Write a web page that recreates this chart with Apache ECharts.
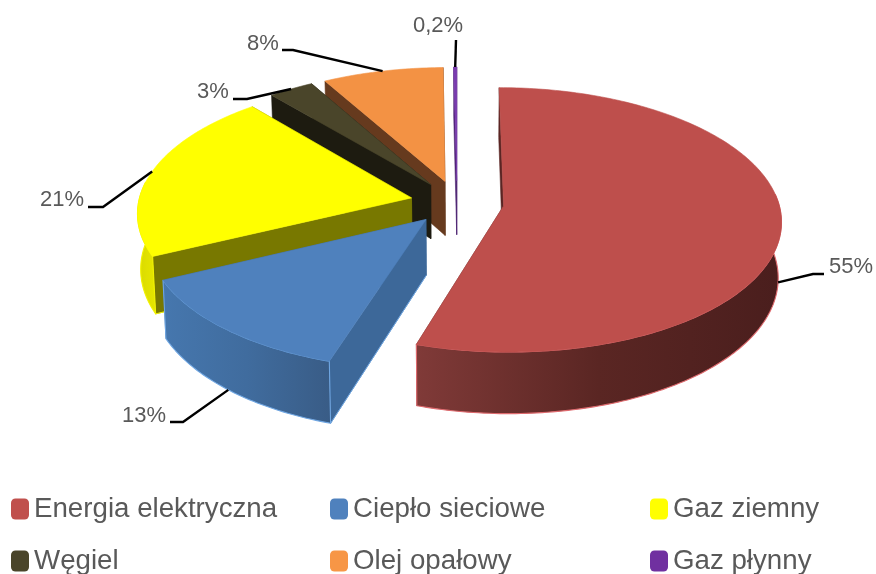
<!DOCTYPE html>
<html>
<head>
<meta charset="utf-8">
<style>html,body{margin:0;padding:0;background:#fff}#c{width:876px;height:574px}</style>
<script src="https://cdn.jsdelivr.net/npm/echarts@6/dist/echarts.min.js"></script>
</head>
<body>
<div id="c"></div>
<script>
// --- data ---
var categories = ['Energia elektryczna', 'Ciepło sieciowe', 'Gaz ziemny', 'Węgiel', 'Olej opałowy', 'Gaz płynny'];
var values = [55, 13, 21, 3, 8, 0.2];
var valueLabels = ['55%', '13%', '21%', '3%', '8%', '0,2%'];

// --- styles ---
var topColors = ['#BE4F4C', '#4F81BD', '#FFFF00', '#4A452A', '#F39244', '#7A3BB0'];
var legendColors = ['#C0504D', '#4F81BD', '#FFFF00', '#4A452A', '#F79646', '#7030A0'];
var cutColors = ['#5a2523', '#3D6899', '#787800', '#1D1B10', '#663A1E', '#4a2070'];
var wallStops = [
  ['#803A38', '#5A2623', '#4A1E1D'],
  ['#4677AE', '#406C9E', '#395C86'],
  ['#E6E600', '#E0E000', '#D8D800'],
  ['#2a2718', '#2a2718', '#2a2718'],
  ['#7a4a22', '#7a4a22', '#7a4a22'],
  ['#4a2070', '#4a2070', '#4a2070']
];
var edgeColors = ['#DE6A6E', '#6FA6E2', '#F2F200', '#3a3720', '#F7A868', '#8a50c0'];
var drawOrder = [6, 5, 4, 3, 2, 1]; // painter's order: back slices lowest

// --- layout of the 3D projection ---
var CX = 457, CY = 202.5, R_RIGHT = 275, R_LEFT = 273, H = 130, K = 0.105;
var EXPLODE = 0.171, DEPTH = 55, LOWER_SCALE = 0.99;

// --- label layout ---
var labelElbows = [[813, 274], [183, 422], [103, 207], [247, 99], [293, 50], [456, 40]];
var labelEnds = [[824, 274], [170, 422], [88, 207], [233, 99], [282, 50], [456, 40]];
var labelPos = [[829, 267], [122, 416], [40, 200], [197, 92], [247, 44], [413, 26]];
var legendPos = [[11, 495], [330, 495], [650, 495], [11, 547], [330, 547], [650, 547]];

var total = values.reduce(function (a, b) { return a + b; }, 0);
var startAngles = [], acc = 0;
values.forEach(function (v) { startAngles.push(acc / total * 360); acc += v; });

function dir(deg) { var r = deg * Math.PI / 180; return [Math.sin(r), -Math.cos(r)]; }
function project(u, v, lower) {
  var f = 1 / (1 - K * v);
  var x = CX + (u < 0 ? R_LEFT : R_RIGHT) * u * f;
  var y = CY + H * v * f;
  if (lower) { x = CX + (x - CX) * LOWER_SCALE; y += DEPTH * f; }
  return [x, y];
}
function renderSlice(params, api) {
  var i = params.seriesIndex;
  var sweep = api.value(0) / total * 360;
  var a = startAngles[i], b = a + sweep, mid = a + sweep / 2;
  var m = dir(mid), ox = m[0] * EXPLODE, oy = m[1] * EXPLODE;
  function rim(deg, lower) { var d = dir(deg); return project(ox + d[0], oy + d[1], lower); }
  var apexT = project(ox, oy, false), apexB = project(ox, oy, true);
  function arc(from, to, lower) {
    var pts = [], n = Math.max(1, Math.ceil(Math.abs(to - from)));
    for (var j = 0; j <= n; j++) pts.push(rim(from + (to - from) * j / n, lower));
    return pts;
  }
  var children = [];
  function poly(points, fill, stroke, sw) {
    children.push({ type: 'polygon', shape: { points: points }, silent: true,
      style: { fill: fill, stroke: stroke || fill, lineWidth: sw || 0.6, lineJoin: 'round' } });
  }
  // cut faces
  poly([apexT, rim(b, false), rim(b, true), apexB], cutColors[i]);
  poly([apexT, rim(a, false), rim(a, true), apexB], cutColors[i]);
  // outer wall (only the part turned towards the viewer)
  var wa = Math.max(a, 85), wb = Math.min(b, 277);
  if (wb > wa) {
    var up = arc(wa, wb, false), lo = arc(wb, wa, true);
    poly(up.concat(lo), new echarts.graphic.LinearGradient(i === 2 ? 0 : 1, 0, i === 2 ? 1 : 0, 0, [
      { offset: 0, color: wallStops[i][2] },
      { offset: 0.5, color: wallStops[i][1] },
      { offset: 1, color: wallStops[i][0] }
    ]), edgeColors[i], 1.1);
  }
  // edge highlight under visible cut faces
  if (a > 90 && a < 270) {
    children.push({ type: 'polyline', silent: true, shape: { points: [rim(a, true), apexB] },
      style: { stroke: edgeColors[i], lineWidth: 1, fill: null } });
  }
  // top face
  poly([apexT].concat(arc(a, b, false)), topColors[i]);
  // leader line & label
  var anchor = rim(mid, m[1] > 0);
  children.push({ type: 'polyline', silent: true, shape: { points: [anchor, labelElbows[i], labelEnds[i]] },
    style: { stroke: '#000', lineWidth: 2.4, fill: null } });
  children.push({ type: 'text', silent: true, style: {
    x: labelPos[i][0], y: labelPos[i][1], text: valueLabels[i], fill: '#595959',
    font: '22px "Liberation Sans", Arial, sans-serif', textAlign: 'left', textVerticalAlign: 'middle' } });
  return { type: 'group', children: children };
}

var chart = echarts.init(document.getElementById('c'), null, { renderer: 'canvas' });
chart.setOption({
  animation: false,
  backgroundColor: '#fff',
  legend: categories.map(function (name, i) {
    return {
      data: [name], left: legendPos[i][0], top: legendPos[i][1], padding: 0,
      orient: 'horizontal', icon: 'roundRect', itemWidth: 18, itemHeight: 21, itemGap: 0,
      selectedMode: false,
      textStyle: { color: '#595959', fontFamily: '"Liberation Sans", Arial, sans-serif', fontSize: 27.7, padding: [0, 0, 0, 0] }
    };
  }),
  series: categories.map(function (name, i) {
    return {
      type: 'custom', name: name, coordinateSystem: 'none', z: drawOrder[i] + 2,
      data: [[values[i]]], renderItem: renderSlice,
      itemStyle: { color: legendColors[i] }, silent: true
    };
  })
});
</script>
</body>
</html>
